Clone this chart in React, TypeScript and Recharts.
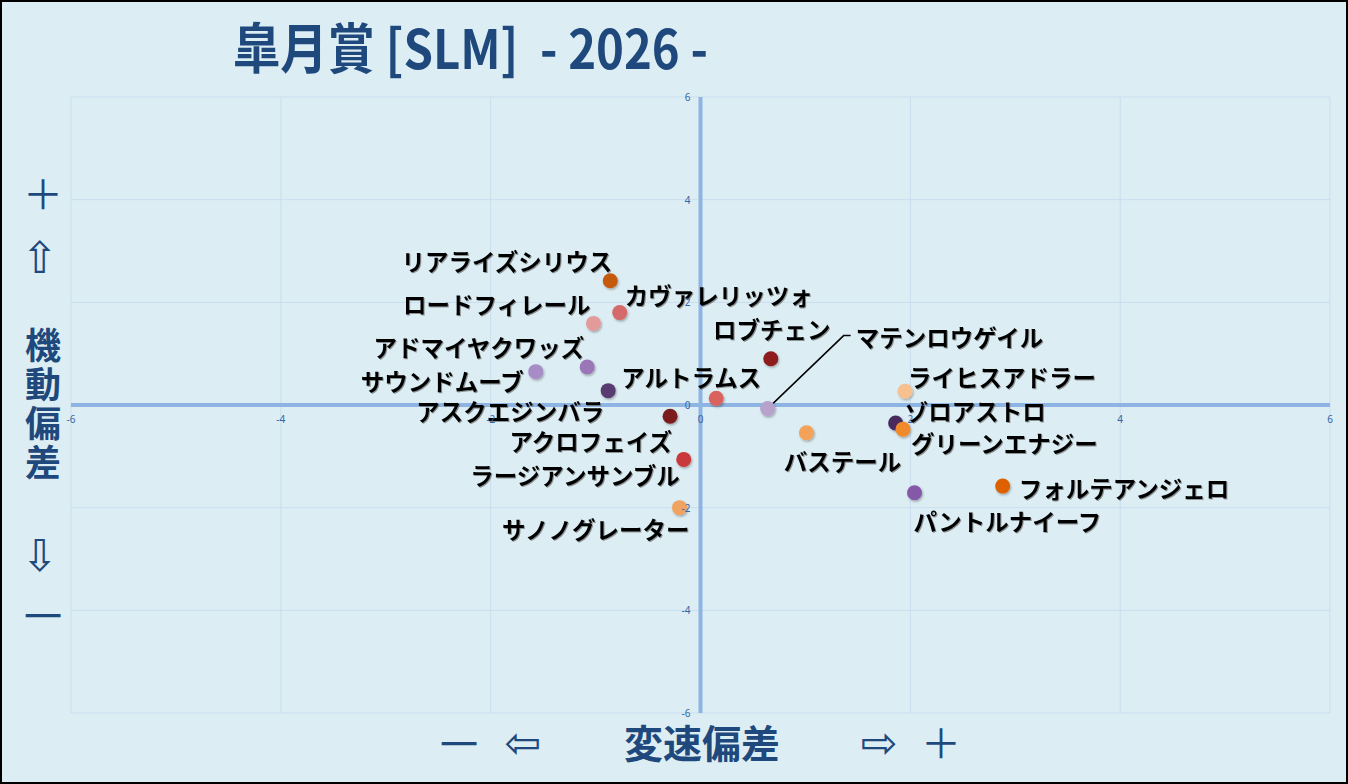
import React from "react";
import {
  ScatterChart,
  Scatter,
  XAxis,
  YAxis,
  CartesianGrid,
  ReferenceLine,
} from "recharts";

const W = 1348;
const H = 784;
const PLOT = { top: 97, right: 18, bottom: 71, left: 71 };
const AXIS_SIZE = 30;
const ZERO_X = PLOT.left + (W - PLOT.left - PLOT.right) / 2;
const ZERO_Y = PLOT.top + (H - PLOT.top - PLOT.bottom) / 2;

const NAVY = "#1F497D";
const JP = '"Noto Sans CJK JP", "Noto Sans", sans-serif';

// horse names, speed deviation (x), maneuver deviation (y)
const horses = [
  "リアライズシリウス",
  "カヴァレリッツォ",
  "ロードフィレール",
  "アドマイヤクワッズ",
  "サウンドムーブ",
  "アスクエジンバラ",
  "アルトラムス",
  "アクロフェイズ",
  "ラージアンサンブル",
  "サノノグレーター",
  "ロブチェン",
  "マテンロウゲイル",
  "ライヒスアドラー",
  "ゾロアストロ",
  "グリーンエナジー",
  "バステール",
  "フォルテアンジェロ",
  "パントルナイーフ",
];
const speedDev = [
  -0.86, -0.77, -1.02, -1.08, -1.57, -0.88, 0.15, -0.29, -0.16, -0.2, 0.67,
  0.64, 1.95, 1.86, 1.93, 1.01, 2.88, 2.04,
];
const maneuverDev = [
  2.42, 1.8, 1.59, 0.74, 0.65, 0.28, 0.13, -0.22, -1.06, -2.0, 0.9, -0.07,
  0.27, -0.35, -0.47, -0.54, -1.58, -1.71,
];
const ticks = [-6, -4, -2, 0, 2, 4, 6];

const dotColors = [
  "#C55A11", "#D46A6A", "#E39A9A", "#9B77B8", "#A78CC6", "#583A70",
  "#D9625F", "#7A1C1C", "#C9393A", "#F0A260", "#8E1F1F", "#B7A2CC",
  "#F7C08F", "#4A2C5E", "#F08A2C", "#F4A15A", "#DE6006", "#8658A8",
];

// label placement: [anchor, dx, dy(center)]
const labelPlace: Record<string, [string, number, number]> = {
  リアライズシリウス: ["end", 2, -20],
  カヴァレリッツォ: ["start", 5, -18],
  ロードフィレール: ["end", -3, -19],
  アドマイヤクワッズ: ["end", -3, -20],
  サウンドムーブ: ["end", -12, 9],
  アスクエジンバラ: ["end", -4, 20],
  アルトラムス: ["middle", -25, -21],
  アクロフェイズ: ["end", 2, 25],
  ラージアンサンブル: ["end", -4, 16],
  サノノグレーター: ["end", 10, 21],
  ロブチェン: ["middle", 1, -30],
  マテンロウゲイル: ["start", 88, -72],
  ライヒスアドラー: ["start", 3, -14],
  ゾロアストロ: ["start", 9, -12],
  グリーンエナジー: ["start", 8, 14],
  バステール: ["middle", 36, 28],
  フォルテアンジェロ: ["start", 16, 2],
  パントルナイーフ: ["start", -1, 28],
};

const data = horses.map((name, i) => ({
  name,
  x: speedDev[i],
  y: maneuverDev[i],
  color: dotColors[i],
}));

function HorseDot(props: any) {
  const { cx, cy, payload } = props;
  const [anchor, dx, dy] = labelPlace[payload.name] ?? ["start", 10, 0];
  const leader = payload.name === "マテンロウゲイル";
  return (
    <g>
      {leader && (
        <polyline
          points={`${cx},${cy} ${cx + 76},${cy - 73} ${cx + 83},${cy - 73}`}
          fill="none"
          stroke="#000"
          strokeWidth={1.5}
        />
      )}
      <circle cx={cx} cy={cy} r={7.5} fill={payload.color} filter="url(#dotShadow)" />
      <text
        x={cx + dx}
        y={cy + dy}
        textAnchor={anchor as any}
        dominantBaseline="central"
        fontFamily={JP}
        fontWeight={700}
        fontSize={23.5}
        fill="#000"
        filter="url(#textShadow)"
      >
        {payload.name}
      </text>
    </g>
  );
}

const renderXTick = (props: any) => (
  <text
    key={`xt-${props.payload.value}`}
    x={props.x}
    y={ZERO_Y + 18}
    textAnchor="middle"
    fontSize={10}
    fill="#3465A4"
    fontFamily="Noto Sans"
  >
    {props.payload.value}
  </text>
);

const renderYTick = (props: any) => (
  <text
    key={`yt-${props.payload.value}`}
    x={ZERO_X - 10}
    y={props.y + 4}
    textAnchor="end"
    fontSize={10}
    fill="#3465A4"
    fontFamily="Noto Sans"
  >
    {props.payload.value}
  </text>
);

export default function App() {
  return (
    <div
      style={{
        position: "fixed",
        left: 0,
        top: 0,
        width: W,
        height: H,
        background: "#DCEEF4",
        border: "2px solid #000",
        boxSizing: "border-box",
        overflow: "hidden",
      }}
    >
      <div style={{ position: "absolute", left: -2, top: -2 }}>
        <ScatterChart
          width={W}
          height={H}
          margin={{
            top: PLOT.top,
            right: PLOT.right,
            bottom: PLOT.bottom - AXIS_SIZE,
            left: PLOT.left - AXIS_SIZE,
          }}
        >
          <defs>
            <filter id="dotShadow" x="-50%" y="-50%" width="200%" height="200%">
              <feDropShadow dx={1} dy={1.5} stdDeviation={1} floodColor="#000" floodOpacity={0.3} />
            </filter>
            <filter id="textShadow" x="-5%" y="-20%" width="110%" height="140%">
              <feDropShadow dx={1} dy={1} stdDeviation={0.4} floodColor="#555" floodOpacity={0.6} />
            </filter>
          </defs>
          <CartesianGrid stroke="#C9DDEE" strokeWidth={1} />
          <XAxis
            type="number"
            dataKey="x"
            domain={[-6, 6]}
            ticks={ticks}
            height={AXIS_SIZE}
            axisLine={false}
            tickLine={false}
            tick={renderXTick}
            interval={0}
          />
          <YAxis
            type="number"
            dataKey="y"
            domain={[-6, 6]}
            ticks={ticks}
            width={AXIS_SIZE}
            axisLine={false}
            tickLine={false}
            tick={renderYTick}
            interval={0}
          />
          <ReferenceLine x={0} stroke="#8DB4E2" strokeWidth={4} />
          <ReferenceLine y={0} stroke="#8DB4E2" strokeWidth={4} />
          <Scatter data={data} shape={<HorseDot />} isAnimationActive={false} />
        </ScatterChart>
      </div>
      <svg
        width={W}
        height={H}
        style={{ position: "absolute", left: -2, top: -2, pointerEvents: "none" }}
      >
        <text
          x={233}
          y={45}
          dominantBaseline="central"
          fontFamily={JP}
          fontWeight={700}
          fontSize={54}
          fill={NAVY}
          textLength={475}
          lengthAdjust="spacingAndGlyphs"
          style={{ whiteSpace: "pre" }}
        >
          {"皐月賞 [SLM]  - 2026 -"}
        </text>
        <g fill={NAVY} textAnchor="middle" dominantBaseline="central" fontFamily={JP}>
          <text x={43} y={192} fontSize={40}>＋</text>
          <text x={40} y={257} fontSize={44} fontFamily="DejaVu Sans">⇧</text>
          <text x={40} y={555} fontSize={44} fontFamily="DejaVu Sans">⇩</text>
          <text x={43} y={613} fontSize={38}>一</text>
          <text x={459} y={741} fontSize={38}>一</text>
          <text x={523} y={742} fontSize={44} fontFamily="DejaVu Sans">⇦</text>
          <text x={702} y={741} fontSize={39} fontWeight={700}>変速偏差</text>
          <text x={879} y={742} fontSize={44} fontFamily="DejaVu Sans">⇨</text>
          <text x={941} y={741} fontSize={40}>＋</text>
        </g>
      </svg>
      <div
        style={{
          position: "absolute",
          left: 25 - 2,
          top: 327 - 2,
          writingMode: "vertical-rl",
          fontFamily: JP,
          fontWeight: 700,
          fontSize: 36,
          lineHeight: "36px",
          letterSpacing: 3,
          color: NAVY,
        }}
      >
        機動偏差
      </div>
    </div>
  );
}
